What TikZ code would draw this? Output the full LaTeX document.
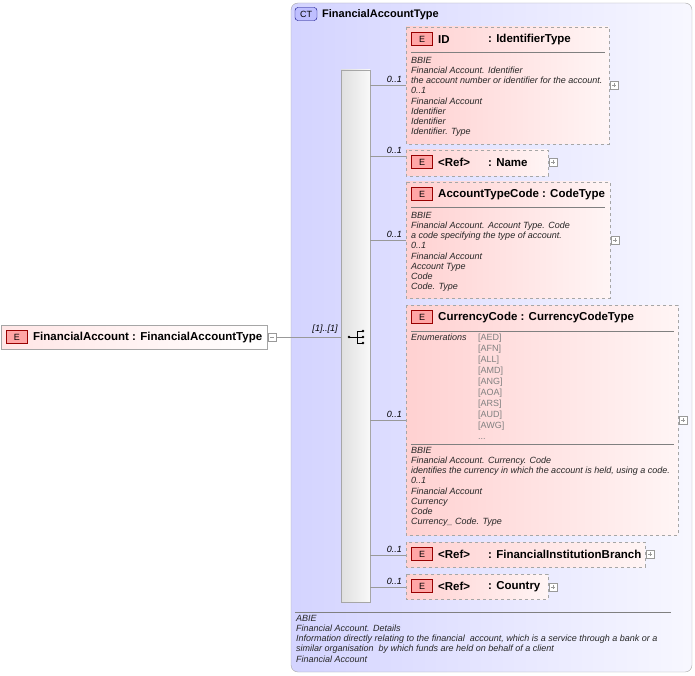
\documentclass[tikz,border=0pt]{standalone}
\usepackage{fontspec}
\setmainfont{Liberation Sans}
\begin{document}
\begin{tikzpicture}[x=1pt,y=-1pt,
  ebox/.style={draw=gray!70,dashed,left color=red!18,right color=red!4},
  badge/.style={draw=red!60!black,fill=red!35,minimum width=21pt,minimum height=13pt,inner sep=0pt,font=\fontsize{9}{9}\selectfont},
  hdr/.style={anchor=west,inner sep=0pt,yshift=-1.5pt,font=\bfseries\fontsize{11.5}{12}\selectfont},
  doc/.style={anchor=north west,inner sep=0pt,align=left,font=\itshape\fontsize{9}{10.2}\selectfont,text=black!85},
  enum/.style={anchor=north west,inner sep=0pt,align=left,font=\fontsize{9}{11}\selectfont,text=gray},
  card/.style={inner sep=0pt,font=\itshape\fontsize{9}{9}\selectfont},
  pl/.style={draw=gray!80,fill=white,minimum size=8pt,inner sep=0pt,path picture={\draw[gray!80] ([xshift=2pt]path picture bounding box.west)--([xshift=-2pt]path picture bounding box.east) ([yshift=-2pt]path picture bounding box.north)--([yshift=2pt]path picture bounding box.south);}},
  ln/.style={draw=gray!80}]
\useasboundingbox (0,0) rectangle (695,676);
% outer CT
\draw[gray!70,rounded corners=7pt,left color=blue!17,right color=blue!3] (291,3) rectangle (692,672);
\node[draw=blue!50!black,fill=blue!25,rounded corners=3pt,minimum width=22pt,minimum height=13pt,inner sep=0pt,font=\fontsize{9}{9}\selectfont] (ct) at (306,14) {CT};
\node[hdr,font=\bfseries\fontsize{11}{12}\selectfont] (cttitle) at (322,13) {FinancialAccountType};
% left element
\draw[gray!70,left color=red!10,right color=white] (1,325) rectangle (267,349);
\node[badge] (e0) at (17,337) {E};
\node[hdr] (root) at (33,336) {FinancialAccount : FinancialAccountType};
\node[draw=gray!80,fill=white,minimum size=8pt,inner sep=0pt,path picture={\draw[gray!80] ([xshift=2pt]path picture bounding box.west)--([xshift=-2pt]path picture bounding box.east);}] (minus) at (272,337) {};
% sequence bar
\draw[gray!70,left color=gray!25,right color=gray!5] (341,70) rectangle (370,602);
\coordinate (seqL) at (341,337);
\node[inner sep=0pt,minimum size=14pt] (seq) at (356,337) {};
\fill (349,337) circle (1.3pt);
\draw (349,337)--(357,337) (357,331)--(357,343) (357,331)--(363,331) (357,337)--(363,337) (357,343)--(363,343);
\fill (363,331) circle (1.3pt) (363,337) circle (1.3pt) (363,343) circle (1.3pt);
\draw[ln] (minus.east)--(seqL);
\node[card,anchor=south] (c0) at (325,334) {[1]..[1]};
% ID
\draw[ebox] (406,27) rectangle (609,144);
\node[badge] (e1) at (422,39) {E};
\node[hdr] (h1) at (438,38) {ID};
\node[hdr] (t1) at (488,38) {: IdentifierType};
\draw[gray] (411,52)--(605,52);
\node[doc] (d1) at (411,57) {BBIE\\Financial Account. Identifier\\the account number or identifier for the account.\\0..1\\Financial Account\\Identifier\\Identifier\\Identifier. Type};
\node[pl] (p1) at (614,85) {};
% Ref Name
\draw[ebox] (406,150) rectangle (548,176);
\node[badge] (e2) at (422,162) {E};
\node[hdr] (h2) at (438,161) {<Ref>};
\node[hdr] (t2) at (488,161) {: Name};
\node[pl] (p2) at (553,162) {};
% AccountTypeCode
\draw[ebox] (406,182) rectangle (610,298);
\node[badge] (e3) at (422,194) {E};
\node[hdr] (h3) at (438,193) {AccountTypeCode : CodeType};
\draw[gray] (411,207)--(605,207);
\node[doc] (d3) at (411,212) {BBIE\\Financial Account. Account Type. Code\\a code specifying the type of account.\\0..1\\Financial Account\\Account Type\\Code\\Code. Type};
\node[pl] (p3) at (615,240) {};
% CurrencyCode
\draw[ebox] (406,305) rectangle (678,535);
\node[badge] (e4) at (422,317) {E};
\node[hdr] (h4) at (438,316) {CurrencyCode : CurrencyCodeType};
\draw[gray] (411,331)--(674,331);
\node[doc] (en) at (411,334) {Enumerations};
\node[enum] (ev) at (478,334) {{[AED]}\\{[AFN]}\\{[ALL]}\\{[AMD]}\\{[ANG]}\\{[AOA]}\\{[ARS]}\\{[AUD]}\\{[AWG]}\\...};
\draw[gray] (411,444)--(674,444);
\node[doc] (d4) at (411,447) {BBIE\\Financial Account. Currency. Code\\identifies the currency in which the account is held, using a code.\\0..1\\Financial Account\\Currency\\Code\\Currency\_ Code. Type};
\node[pl] (p4) at (683,420) {};
% FIB
\draw[ebox] (406,542) rectangle (645,567);
\node[badge] (e5) at (422,554) {E};
\node[hdr] (h5) at (438,553) {<Ref>};
\node[hdr] (t5) at (488,553) {: FinancialInstitutionBranch};
\node[pl] (p5) at (650,554) {};
% Country
\draw[ebox] (406,574) rectangle (548,599);
\node[badge] (e6) at (422,586) {E};
\node[hdr] (h6) at (438,585) {<Ref>};
\node[hdr] (t6) at (488,585) {: Country};
\node[pl] (p6) at (553,587) {};
% connectors
\foreach \y/\n in {85/a,156/b,240/c,420/d,555/e,587/f}{
  \coordinate (s\n) at (370,\y); \coordinate (t\n) at (406,\y);
  \draw[ln] (s\n)--(t\n);
  \node[card,anchor=south east] (c\n) at (402,\y-2) {0..1};
}
% bottom annotation
\draw[gray] (295,612)--(671,612);
\node[doc] (ab) at (296,615) {ABIE\\Financial Account. Details\\Information directly relating to the financial\ \ account, which is a service through a bank or a\\similar organisation\ \ by which funds are held on behalf of a client\\Financial Account};
\end{tikzpicture}
\end{document}
